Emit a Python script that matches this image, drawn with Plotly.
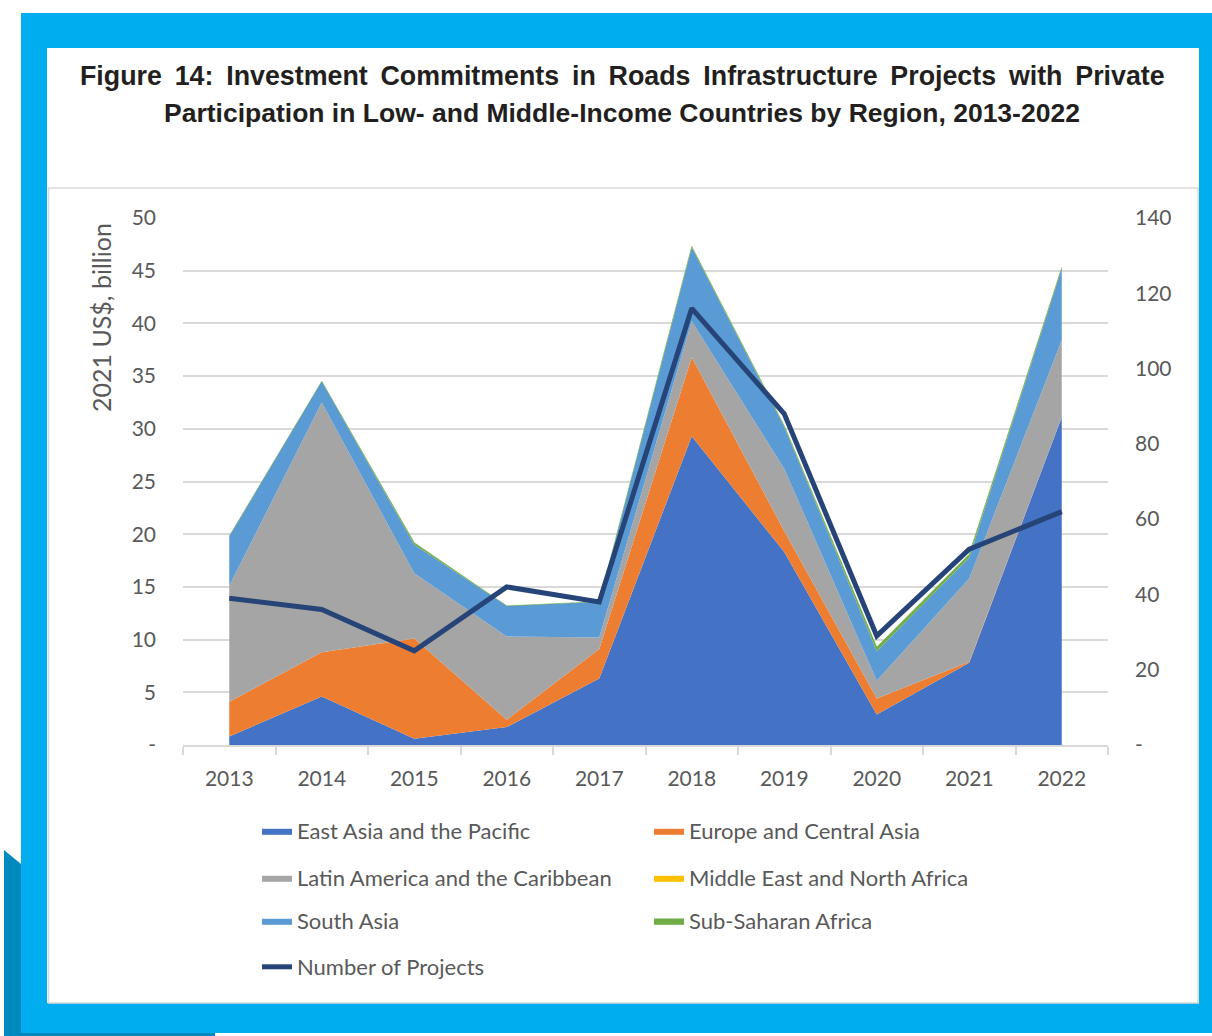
import plotly.graph_objects as go

# ---------------- data ----------------
years = [2013, 2014, 2015, 2016, 2017, 2018, 2019, 2020, 2021, 2022]
east_asia_pacific = [0.8, 4.6, 0.6, 1.7, 6.3, 29.3, 18.3, 2.9, 7.8, 31.1]
europe_central_asia = [3.3, 4.2, 9.5, 0.7, 2.8, 7.5, 2.0, 1.5, 0.1, 0.0]
latin_america_caribbean = [11.0, 23.7, 6.2, 7.9, 1.1, 3.4, 5.9, 1.7, 7.9, 7.3]
middle_east_north_africa = [0, 0, 0, 0, 0, 0, 0, 0, 0, 0]
south_asia = [4.7, 2.0, 2.7, 2.9, 3.4, 7.0, 4.0, 2.8, 2.0, 6.8]
sub_saharan_africa = [0, 0, 0.2, 0, 0, 0.1, 0.1, 0.4, 0.3, 0.1]
number_of_projects = [39, 36, 25, 42, 38, 116, 88, 29, 52, 62]

left_ticks = [0, 5, 10, 15, 20, 25, 30, 35, 40, 45, 50]
left_ticktext = ["-", "5", "10", "15", "20", "25", "30", "35", "40", "45", "50"]
right_ticks = [0, 20, 40, 60, 80, 100, 120, 140]
right_ticktext = ["-", "20", "40", "60", "80", "100", "120", "140"]

title_line1 = "Figure 14: Investment Commitments in Roads Infrastructure Projects with Private"
title_line2 = "Participation in Low- and Middle-Income Countries by Region, 2013-2022"
y_title = "2021 US$, billion"

# ---------------- layout geometry (pixels) ----------------
W, H = 1212, 1036
PL, PR, PT, PB = 183, 1108, 218, 745


def px_x(px):
    return (px - PL) / (PR - PL)


def px_y(py):
    return (PB - py) / (PB - PT)


FONT = "Lato"
TXT = "#595959"

fig = go.Figure()

series = [
    ("East Asia and the Pacific", east_asia_pacific, "#4472C4", "legend"),
    ("Europe and Central Asia", europe_central_asia, "#ED7D31", "legend"),
    ("Latin America and the Caribbean", latin_america_caribbean, "#A5A5A5", "legend2"),
    ("Middle East and North Africa", middle_east_north_africa, "#FFC000", "legend2"),
    ("South Asia", south_asia, "#5B9BD5", "legend3"),
    ("Sub-Saharan Africa", sub_saharan_africa, "#70AD47", "legend3"),
]
for name, vals, color, lg in series:
    fig.add_trace(go.Scatter(
        x=years, y=vals, name=name, mode="lines", stackgroup="one",
        line=dict(width=0.6 if name == "Sub-Saharan Africa" else 0, color=color),
        fillcolor=color, legend=lg, hoverinfo="skip",
    ))

fig.add_trace(go.Scatter(
    x=years, y=number_of_projects, name="Number of Projects", yaxis="y2",
    mode="lines", line=dict(color="#264478", width=5), legend="legend4",
))

# ---------------- background shapes ----------------
shapes = []
shapes.append(dict(type="rect", xref="paper", yref="paper", layer="below",
                   x0=px_x(21), x1=px_x(1212), y0=px_y(13), y1=px_y(1033),
                   fillcolor="#00AEEF", line=dict(width=0)))
pts = [(4, 850), (21, 864), (21, 1033), (215, 1033), (215, 1036), (4, 1036)]
path = "M " + " L ".join(f"{px_x(a):.5f},{px_y(b):.5f}" for a, b in pts) + " Z"
shapes.append(dict(type="path", xref="paper", yref="paper", layer="below",
                   path=path, fillcolor="#0089BF", line=dict(width=0)))
shapes.append(dict(type="rect", xref="paper", yref="paper", layer="below",
                   x0=px_x(47), x1=px_x(1199), y0=px_y(48), y1=px_y(1003),
                   fillcolor="white", line=dict(width=0)))
shapes.append(dict(type="rect", xref="paper", yref="paper", layer="below",
                   x0=px_x(48.5), x1=px_x(1198), y0=px_y(188), y1=px_y(1003),
                   fillcolor="white", line=dict(width=1.5, color="#D9D9D9")))

# justified first title line: widen word gaps with thin spaces
title_line1_just = title_line1.replace(" ", " \u2009")

annotations = [
    dict(text=f"<b>{title_line1_just}</b>", xref="paper", yref="paper",
         x=px_x(622), y=px_y(76), xanchor="center", yanchor="middle", showarrow=False,
         font=dict(family="Liberation Sans", size=26.8, color="#231F20")),
    dict(text=f"<b>{title_line2}</b>", xref="paper", yref="paper",
         x=px_x(622), y=px_y(113), xanchor="center", yanchor="middle", showarrow=False,
         font=dict(family="Liberation Sans", size=26.5, color="#231F20")),
    dict(text=y_title, xref="paper", yref="paper", textangle=-90,
         x=px_x(101), y=px_y(318), xanchor="center", yanchor="middle", showarrow=False,
         font=dict(family=FONT, size=25, color=TXT)),
]

leg_common = dict(orientation="h", xanchor="left", yanchor="middle", traceorder="normal",
                  bgcolor="rgba(0,0,0,0)", entrywidth=347, entrywidthmode="pixels",
                  font=dict(family=FONT, size=22, color=TXT), itemclick=False,
                  itemdoubleclick=False)
legx = px_x(257)

fig.update_layout(
    width=W, height=H,
    margin=dict(l=PL, r=W - PR, t=PT, b=H - PB, autoexpand=False),
    paper_bgcolor="white", plot_bgcolor="rgba(0,0,0,0)",
    showlegend=True,
    legend=dict(**leg_common, x=legx, y=px_y(831)),
    legend2=dict(**leg_common, x=legx, y=px_y(878)),
    legend3=dict(**leg_common, x=legx, y=px_y(921)),
    legend4=dict(**leg_common, x=legx, y=px_y(967)),
    shapes=shapes,
    annotations=annotations,
    xaxis=dict(
        range=[2012.5, 2022.5], tickvals=years, ticktext=[str(y) for y in years],
        showgrid=False, zeroline=False, showline=True, linecolor="#D9D9D9", linewidth=1.5,
        ticks="", ticklabelstandoff=14,
        tickfont=dict(family=FONT, size=21, color=TXT),
        minor=dict(tick0=2012.5, dtick=1, ticks="outside", ticklen=8,
                   tickcolor="#D9D9D9", tickwidth=1.5, showgrid=False),
    ),
    yaxis=dict(
        range=[0, 50], tickvals=left_ticks, ticktext=left_ticktext,
        showgrid=True, gridcolor="#D9D9D9", gridwidth=1.5, zeroline=False,
        ticks="", ticklabelstandoff=26,
        tickfont=dict(family=FONT, size=21, color=TXT),
    ),
    yaxis2=dict(
        range=[0, 140], tickvals=right_ticks, ticktext=right_ticktext,
        overlaying="y", side="right", showgrid=False, zeroline=False,
        ticks="", ticklabelstandoff=26,
        tickfont=dict(family=FONT, size=21, color=TXT),
    ),
)

fig.write_html(
    "out.html",
    config={"displayModeBar": False},
    post_script="document.body.style.margin='0px';document.body.style.padding='0px';",
)
